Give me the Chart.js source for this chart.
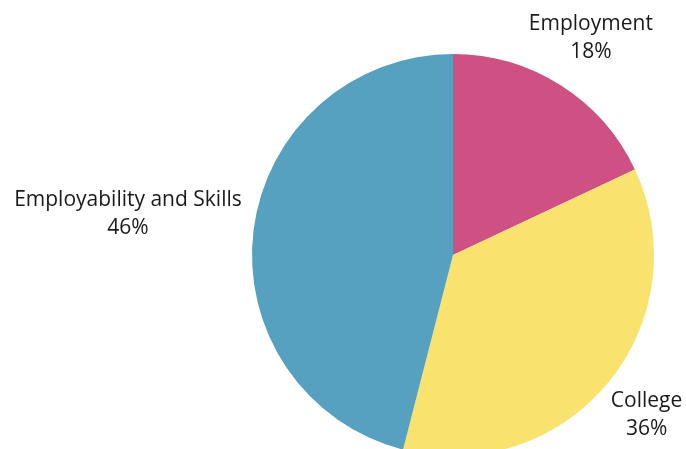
<!DOCTYPE html>
<html>
<head>
<meta charset="utf-8">
<script src="https://cdn.jsdelivr.net/npm/chart.js@4"></script>
<style>
  html, body { margin: 0; padding: 0; background: #fff; overflow: hidden; }
  #wrap { position: relative; width: 686px; height: 510px; }
</style>
</head>
<body>
<div id="wrap"><canvas id="pie"></canvas></div>
<script>
// 数据
const categories = ['Employment', 'College', 'Employability and Skills'];
const shares = [18, 36, 46];
const sliceColors = ['#CF5184', '#F9E36E', '#55A1BF'];

// 标签插件：在每个扇区外侧画两行文字
const outsideLabels = {
    id: 'outsideLabels',
    afterDatasetsDraw(chart, args, opts) {
        const ctx = chart.ctx;
        const meta = chart.getDatasetMeta(0);
        ctx.save();
        ctx.font = opts.font;
        ctx.fillStyle = opts.color;
        ctx.textAlign = 'center';
        ctx.textBaseline = 'middle';
        meta.data.forEach((arc, i) => {
            const p = arc.getProps(['x', 'y', 'startAngle', 'endAngle', 'outerRadius'], true);
            const mid = (p.startAngle + p.endAngle) / 2;
            const r = p.outerRadius * opts.distance[i];
            const x = p.x + Math.cos(mid) * r;
            const y = p.y + Math.sin(mid) * r;
            ctx.fillText(categories[i], x, y - opts.lineGap / 2);
            ctx.fillText(shares[i] + '%', x, y + opts.lineGap / 2);
        });
        ctx.restore();
    }
};

new Chart(document.getElementById('pie'), {
    type: 'pie',
    data: {
        labels: categories,
        datasets: [{
            data: shares,
            backgroundColor: sliceColors,
            borderWidth: 0,
            hoverOffset: 0
        }]
    },
    options: {
        responsive: true,
        maintainAspectRatio: false,
        animation: false,
        layout: { padding: { left: 252, right: 32, top: 54, bottom: 54 } },
        plugins: {
            legend: { display: false },
            tooltip: { enabled: false },
            outsideLabels: {
                font: '21px "Open Sans", "Noto Sans", sans-serif',
                color: '#1a1a1a',
                lineGap: 28,
                distance: [1.28, 1.25, 1.63]
            }
        }
    },
    plugins: [outsideLabels]
});
</script>
</body>
</html>
